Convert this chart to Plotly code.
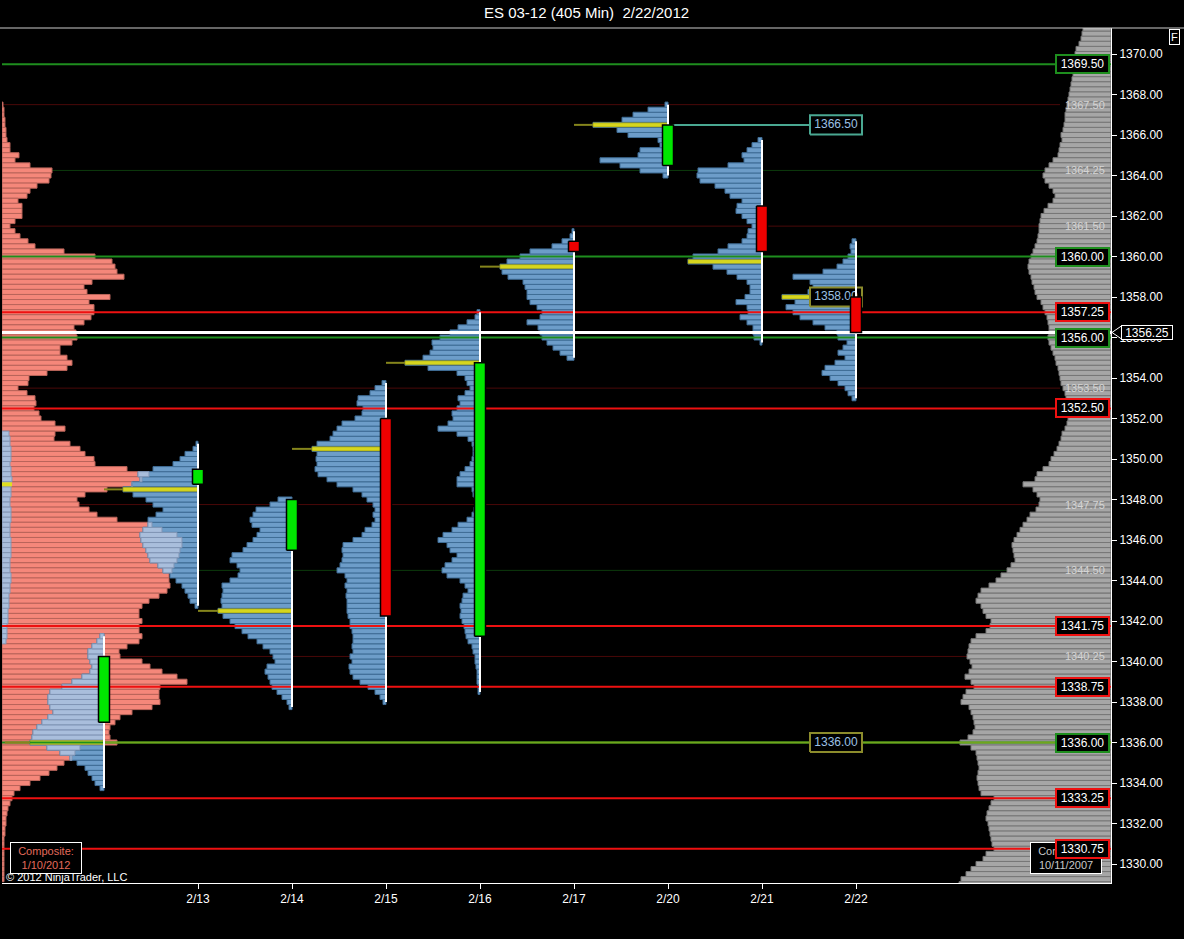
import plotly.graph_objects as go

# ---------------------------------------------------------------- data
DAYS = ["2/10", "2/13", "2/14", "2/15", "2/16", "2/17", "2/20", "2/21", "2/22"]
DAY_TICKS = ["2/13", "2/14", "2/15", "2/16", "2/17", "2/20", "2/21", "2/22"]
TICK = 0.25

OPEN = [1337.00, 1348.75, 1345.50, 1352.00, 1341.25, 1360.75, 1364.50, 1362.50, 1358.00]
CLOSE = [1340.25, 1349.50, 1348.00, 1342.25, 1354.75, 1360.25, 1366.50, 1360.25, 1356.25]
HIGH = [1341.25, 1350.75, 1348.00, 1353.75, 1357.25, 1361.25, 1367.50, 1365.75, 1360.75]
LOW = [1333.75, 1342.75, 1337.75, 1338.00, 1338.50, 1355.00, 1364.00, 1355.75, 1353.00]

# daily volume profiles: one value per 0.25 tick, from the day's low upward
PROF_0210 = [4, 9, 12, 16, 19, 27, 34, 44, 57, 74, 72, 71, 67, 62, 56, 51,
             54, 56, 56, 54, 42, 32, 22, 14, 12, 14, 16, 16, 12, 7, 4]
PROF_0213 = [3, 8, 10, 13, 16, 22, 28, 35, 40, 48, 50, 52, 55, 57, 58, 55,
             50, 50, 42, 35, 45, 52, 65, 75, 66, 58, 60, 45, 25, 18, 13, 5, 2]
PROF_0214 = [3, 5, 10, 15, 20, 22, 24, 27, 25, 17, 19, 22, 29, 35, 44, 50,
             57, 62, 69, 74, 70, 71, 70, 69, 70, 62, 54, 52, 55, 62, 60, 49,
             45, 39, 35, 32, 40, 42, 39, 36, 22, 14]
PROF_0215 = [3, 6, 11, 18, 26, 33, 36, 37, 34, 36, 33, 34, 33, 33, 34, 36,
             36, 38, 39, 39, 39, 40, 39, 41, 39, 41, 49, 46, 44, 43, 44, 43,
             33, 24, 21, 14, 11, 13, 11, 13, 19, 24, 33, 49, 59, 68, 71, 69,
             70, 69, 74, 69, 56, 53, 49, 44, 31, 24, 23, 29, 28, 16, 11, 4]
PROF_0216 = [2, 2, 3, 3, 3, 4, 5, 5, 7, 8, 12, 14, 15, 16, 18, 20,
             19, 20, 18, 17, 12, 15, 20, 33, 38, 35, 28, 23, 30, 33, 42, 37,
             28, 22, 13, 8, 6, 5, 5, 7, 8, 23, 23, 20, 15, 10, 8, 7,
             7, 8, 12, 23, 42, 32, 27, 28, 23, 20, 22, 15, 10, 13, 15, 23,
             52, 75, 57, 50, 47, 48, 40, 30, 22, 13, 5, 3]
PROF_0217 = [7, 14, 21, 27, 32, 34, 36, 47, 34, 32, 37, 44, 47, 47, 49, 51,
             66, 72, 74, 67, 54, 44, 22, 12, 4, 2]
PROF_0220 = [5, 28, 48, 68, 30, 28, 8, 10, 40, 51, 75, 46, 35, 20, 3]
PROF_0221 = [2, 8, 9, 9, 15, 22, 14, 15, 26, 17, 12, 12, 15, 25, 35, 49,
             74, 69, 44, 34, 20, 15, 14, 10, 15, 20, 26, 25, 20, 32, 37, 47,
             62, 65, 64, 34, 18, 20, 15, 10, 4]
PROF_0222 = [4, 8, 11, 18, 26, 34, 31, 21, 11, 18, 13, 9, 18, 19, 31, 43,
             56, 63, 70, 61, 74, 48, 43, 46, 63, 33, 19, 13, 8, 5, 6, 4]
DAILY_PROFILES = [PROF_0210, PROF_0213, PROF_0214, PROF_0215, PROF_0216,
                  PROF_0217, PROF_0220, PROF_0221, PROF_0222]

# composite "1/10/2012" (left edge), from the top price downward
COMP_LEFT_TOP = 1367.50
COMP_LEFT = [1, 2, 2, 3, 3, 4, 4, 5, 8, 8, 17, 13, 28, 50, 49, 47,
             35, 28, 25, 16, 20, 20, 20, 13, 8, 13, 18, 26, 33, 62, 93, 110,
             113, 115, 122, 90, 82, 85, 108, 87, 92, 92, 89, 82, 72, 74, 75, 70,
             58, 58, 65, 70, 65, 45, 27, 26, 16, 25, 33, 34, 32, 37, 39, 53,
             63, 53, 52, 68, 78, 83, 92, 93, 125, 147, 140, 130, 105, 83, 75, 77,
             87, 95, 115, 150, 160, 175, 180, 180, 178, 177, 175, 172, 170, 167, 167, 168,
             165, 157, 147, 140, 137, 137, 140, 137, 137, 140, 137, 125, 117, 118, 140, 148,
             160, 175, 185, 158, 157, 157, 158, 150, 130, 118, 113, 108, 107, 108, 115, 78,
             73, 70, 62, 55, 47, 38, 28, 18, 12, 10, 8, 6, 5, 4, 4, 3,
             3, 2, 2, 2, 2, 2, 2, 2, 2, 2]
COMP_LEFT_VA_TOP = 1351.25
COMP_LEFT_VA = [7, 8, 8, 9, 9, 9, 8, 9, 9, 10, 9, 9, 9, 8, 8, 9,
                9, 9, 8, 8, 8, 9, 9, 9, 9, 8, 8, 8, 9, 9, 8, 8,
                7, 7, 7, 6, 6, 6, 5, 5, 5, 4]
COMP_LEFT_VA_POC = 1348.75

# composite "10/11/2007" (right edge), from the top price downward
COMP_RIGHT_TOP = 1371.25
COMP_RIGHT = [28, 29, 30, 32, 35, 36, 36, 37, 37, 38, 39, 40, 41, 42, 43, 44,
              45, 46, 46, 47, 48, 50, 49, 51, 52, 53, 58, 62, 66, 68, 66, 62,
              58, 56, 58, 63, 67, 70, 71, 72, 72, 73, 74, 76, 78, 80, 82, 83,
              82, 80, 79, 77, 76, 74, 70, 68, 66, 64, 63, 62, 62, 63, 62, 60,
              58, 56, 55, 53, 52, 51, 50, 48, 46, 45, 44, 43, 43, 43, 44, 46,
              49, 50, 52, 54, 57, 60, 62, 68, 74, 76, 88, 78, 74, 71, 72, 75,
              81, 84, 88, 91, 94, 97, 99, 98, 97, 96, 100, 104, 110, 115, 122, 130,
              133, 135, 130, 128, 125, 120, 121, 125, 135, 140, 142, 143, 144, 141, 139, 142,
              146, 140, 137, 145, 148, 150, 142, 140, 138, 137, 136, 138, 143, 151, 140, 135,
              134, 133, 132, 133, 134, 133, 132, 130, 117, 120, 122, 124, 125, 123, 122, 121,
              120, 119, 117, 125, 128, 135, 140, 145, 150, 152]

RED_LEVELS = [1357.25, 1352.50, 1341.75, 1338.75, 1333.25, 1330.75]
GREEN_LEVELS = [1369.50, 1360.00, 1356.00, 1336.00]
FAINT_RED_LEVELS = [1367.50, 1361.50, 1353.50, 1347.75, 1340.25]
FAINT_GREEN_LEVELS = [1364.25, 1344.50]
LAST_PRICE = 1356.25
NAKED_POC_DAYS = [6, 8, 0]          # days whose POC carries a price tag
NAKED_POC_PRICES = [1366.50, 1358.00, 1336.00]

# ---------------------------------------------------------------- geometry
VOL_PER_DAY = 94.0                  # profile units that span one day column
X_LEFT, X_RIGHT = -102 / 94.0, 1007 / 94.0
Y_RANGE = [1329.062, 1371.284]
FONT = "Liberation Sans, Arial, sans-serif"


def px_x(px):
    return (px - 104) / 94.0


def paper_x(px):
    return (px - 2) / 1109.0


def paper_y(py):
    return (883 - py) / 855.0


def up(low, n):
    return [low + k * TICK for k in range(n)]


def down(top, n):
    return [top - k * TICK for k in range(n)]


fig = go.Figure()
shapes = []
annotations = []

# faint reference levels, behind the profiles
for lv in FAINT_RED_LEVELS + FAINT_GREEN_LEVELS:
    col = "#4a0808" if lv in FAINT_RED_LEVELS else "#0c3a0c"
    shapes.append(dict(type="line", xref="x", yref="y", x0=X_LEFT, x1=px_x(1060),
                       y0=lv, y1=lv, line=dict(color=col, width=1), layer="below"))

# left composite
cl_p = down(COMP_LEFT_TOP, len(COMP_LEFT))
fig.add_trace(go.Bar(orientation="h", y=cl_p, x=[v / VOL_PER_DAY for v in COMP_LEFT],
                     base=X_LEFT, width=TICK, hoverinfo="skip",
                     marker=dict(color="#F5877A", line=dict(color="#B9645A", width=1))))
va_p = down(COMP_LEFT_VA_TOP, len(COMP_LEFT_VA))
fig.add_trace(go.Bar(orientation="h", y=va_p, x=[v / VOL_PER_DAY for v in COMP_LEFT_VA],
                     base=X_LEFT, width=TICK, hoverinfo="skip",
                     marker=dict(color="#A9BEDC", line=dict(color="#8397b5", width=1))))
fig.add_trace(go.Bar(orientation="h", y=[COMP_LEFT_VA_POC], x=[max(COMP_LEFT_VA) / VOL_PER_DAY],
                     base=X_LEFT, width=0.2, hoverinfo="skip",
                     marker=dict(color="#E0E020", line=dict(width=0))))

# right composite
cr_p = down(COMP_RIGHT_TOP, len(COMP_RIGHT))
fig.add_trace(go.Bar(orientation="h", y=cr_p, x=[-v / VOL_PER_DAY for v in COMP_RIGHT],
                     base=X_RIGHT, width=TICK, hoverinfo="skip",
                     marker=dict(color="#A6A6A6", line=dict(color="#777777", width=1))))

# daily profiles
left_lookup = {round(p * 4): v for p, v in zip(cl_p, COMP_LEFT)}
dy, dx, db = [], [], []
oy, ox, ob = [], [], []
py_, px_, pb = [], [], []
ext_x, ext_y = [], []
for i, prof in enumerate(DAILY_PROFILES):
    prices = up(LOW[i], len(prof))
    for p, v in zip(prices, prof):
        dy.append(p); dx.append(-v / VOL_PER_DAY); db.append(i)
        sv = left_lookup.get(round(p * 4), 0)
        s_right = X_LEFT + sv / VOL_PER_DAY
        d_left = i - v / VOL_PER_DAY
        if s_right > d_left:
            end = min(s_right, i)
            oy.append(p); ox.append(end - d_left); ob.append(d_left)
    k = prof.index(max(prof))
    poc = prices[k]
    py_.append(poc); px_.append(-max(prof) / VOL_PER_DAY); pb.append(i)
    if i <= 6:
        start = i - 1 if i > 0 else X_LEFT + 0.03
        ext_x += [start, i - max(prof) / VOL_PER_DAY, None]
        ext_y += [poc, poc, None]

fig.add_trace(go.Bar(orientation="h", y=dy, x=dx, base=db, width=TICK, hoverinfo="skip",
                     marker=dict(color="#6D9DC9", line=dict(color="#3F6D96", width=1))))
fig.add_trace(go.Bar(orientation="h", y=oy, x=ox, base=ob, width=TICK, hoverinfo="skip",
                     marker=dict(color="#A9BEDC", line=dict(color="#8095B5", width=1))))
fig.add_trace(go.Bar(orientation="h", y=py_, x=px_, base=pb, width=0.2, hoverinfo="skip",
                     marker=dict(color="#D6D61E", line=dict(color="#8a8a10", width=0.5))))


def hlines(levels, x0, x1):
    xs, ys = [], []
    for lv in levels:
        xs += [x0, x1, None]
        ys += [lv, lv, None]
    return xs, ys


# key levels
xs, ys = hlines(GREEN_LEVELS, X_LEFT, X_RIGHT)
fig.add_trace(go.Scatter(x=xs, y=ys, mode="lines", line=dict(color="#1E8E1E", width=2),
                         hoverinfo="skip"))
xs, ys = hlines(RED_LEVELS, X_LEFT, X_RIGHT)
fig.add_trace(go.Scatter(x=xs, y=ys, mode="lines", line=dict(color="#EE1111", width=2),
                         hoverinfo="skip"))
# naked POC lines
fig.add_trace(go.Scatter(x=[NAKED_POC_DAYS[2], X_RIGHT], y=[NAKED_POC_PRICES[2]] * 2,
                         mode="lines", line=dict(color="#72A41C", width=2), hoverinfo="skip"))
fig.add_trace(go.Scatter(x=[NAKED_POC_DAYS[0] + 0.05, px_x(810)], y=[NAKED_POC_PRICES[0]] * 2,
                         mode="lines", line=dict(color="#4AA892", width=2), hoverinfo="skip"))
# POC extension lines
fig.add_trace(go.Scatter(x=ext_x, y=ext_y, mode="lines", line=dict(color="#85851C", width=2),
                         hoverinfo="skip"))
# last price
fig.add_trace(go.Scatter(x=[X_LEFT, X_RIGHT], y=[LAST_PRICE] * 2, mode="lines",
                         line=dict(color="#FFFFFF", width=3), hoverinfo="skip"))

# in-plot POC price tags
tag_cx, tag_hw, tag_hh = px_x(836), 26 / 94.0, 0.47
tag_border = ["#4AA892", "#8C8C2C", "#8C8C2C"]
for price, bc in zip(NAKED_POC_PRICES, tag_border):
    fig.add_trace(go.Scatter(
        x=[tag_cx - tag_hw, tag_cx + tag_hw, tag_cx + tag_hw, tag_cx - tag_hw, tag_cx - tag_hw],
        y=[price - tag_hh, price - tag_hh, price + tag_hh, price + tag_hh, price - tag_hh],
        mode="lines", fill="toself", fillcolor="#000000", line=dict(color=bc, width=2),
        hoverinfo="skip"))
    fig.add_trace(go.Scatter(x=[tag_cx], y=[price], mode="text", text=[f"{price:.2f}"],
                             textfont=dict(color="#9CC0E4", size=12, family=FONT),
                             hoverinfo="skip"))

# wicks
wx, wy = [], []
for i in range(len(DAYS)):
    wx += [i, i, None]
    wy += [LOW[i], HIGH[i], None]
fig.add_trace(go.Scatter(x=wx, y=wy, mode="lines", line=dict(color="#FFFFFF", width=2),
                         hoverinfo="skip"))

# candle bodies
hw = 5.5 / 94.0
for i in range(len(DAYS)):
    o, c = OPEN[i], CLOSE[i]
    colr = "#00E600" if c > o else "#EE0000"
    fig.add_trace(go.Scatter(x=[i - hw, i + hw, i + hw, i - hw, i - hw],
                             y=[o, o, c, c, o], mode="lines", fill="toself",
                             fillcolor=colr, line=dict(color="#000000", width=1.5),
                             hoverinfo="skip"))

# ---------------------------------------------------------------- annotations
annotations.append(dict(xref="paper", yref="paper", x=paper_x(586), y=paper_y(13),
                        text="ES 03-12 (405 Min)\u00a0\u00a02/22/2012", showarrow=False,
                        font=dict(color="#FFFFFF", size=15, family=FONT),
                        xanchor="center", yanchor="middle"))
annotations.append(dict(xref="paper", yref="paper", x=paper_x(1174), y=paper_y(37),
                        text="F", showarrow=False, bgcolor="#000000", bordercolor="#FFFFFF",
                        borderwidth=1, borderpad=1, xanchor="center", yanchor="middle",
                        font=dict(color="#FFFFFF", size=11, family=FONT)))
annotations.append(dict(xref="paper", yref="paper", x=paper_x(4), y=paper_y(877),
                        text="\u00a9 2012 NinjaTrader, LLC", showarrow=False, xanchor="left",
                        yanchor="middle", font=dict(color="#FFFFFF", size=11, family=FONT)))
annotations.append(dict(xref="paper", yref="paper", x=paper_x(46), y=paper_y(858),
                        text="Composite:<br>1/10/2012", showarrow=False, bgcolor="#000000",
                        bordercolor="#FFFFFF", borderwidth=1, width=68, height=28,
                        xanchor="center", yanchor="middle",
                        font=dict(color="#E36B5B", size=11, family=FONT)))
annotations.append(dict(xref="paper", yref="paper", x=paper_x(1066), y=paper_y(858),
                        text="Composite:<br>10/11/2007", showarrow=False, bgcolor="#000000",
                        bordercolor="#FFFFFF", borderwidth=1, width=68, height=28,
                        xanchor="center", yanchor="middle",
                        font=dict(color="#C8C8C8", size=11, family=FONT)))

for lv in FAINT_RED_LEVELS + FAINT_GREEN_LEVELS:
    annotations.append(dict(xref="x", yref="y", x=px_x(1085), y=lv, text=f"{lv:.2f}",
                            showarrow=False, font=dict(color="#D4D4D4", size=11, family=FONT)))

for lv in GREEN_LEVELS + RED_LEVELS:
    bc = "#1E8E1E" if lv in GREEN_LEVELS else "#EE1111"
    annotations.append(dict(xref="x", yref="y", x=px_x(1082.5), y=lv, text=f"{lv:.2f}",
                            showarrow=False, bgcolor="#000000", bordercolor=bc, borderwidth=2,
                            borderpad=1, width=49, height=14,
                            xanchor="center", yanchor="middle",
                            font=dict(color="#FFFFFF", size=12, family=FONT)))

annotations.append(dict(xref="paper", yref="y", x=paper_x(1121), y=LAST_PRICE,
                        text=f"{LAST_PRICE:.2f}", showarrow=False, xanchor="left",
                        bgcolor="#000000", bordercolor="#FFFFFF", borderwidth=1,
                        borderpad=0, width=50, height=13,
                        font=dict(color="#FFFFFF", size=12, family=FONT)))
shapes.append(dict(type="path", xref="paper", yref="y",
                   path=f"M {paper_x(1112)},{LAST_PRICE} L {paper_x(1122)},{LAST_PRICE + 0.34} "
                        f"L {paper_x(1122)},{LAST_PRICE - 0.34} Z",
                   fillcolor="#000000", line=dict(color="#FFFFFF", width=1), layer="above"))
# top border of the chart panel
shapes.append(dict(type="line", xref="paper", yref="paper", x0=paper_x(0), x1=paper_x(1184),
                   y0=1.0, y1=1.0, line=dict(color="#CCCCCC", width=1), layer="above"))

fig.update_layout(
    width=1184, height=939, autosize=False,
    margin=dict(l=2, r=73, t=28, b=56, pad=0),
    paper_bgcolor="#000000", plot_bgcolor="#000000",
    showlegend=False, barmode="overlay",
    font=dict(family=FONT, color="#FFFFFF", size=12),
    shapes=shapes, annotations=annotations,
    xaxis=dict(range=[X_LEFT, X_RIGHT], tickmode="array",
               tickvals=list(range(1, len(DAYS))), ticktext=DAY_TICKS,
               showgrid=False, zeroline=False, showline=True, linecolor="#FFFFFF",
               linewidth=1, ticks="outside", ticklen=5, tickcolor="#FFFFFF",
               tickfont=dict(color="#FFFFFF", size=12, family=FONT)),
    yaxis=dict(range=Y_RANGE, side="right", tickmode="array",
               tickvals=[1330 + 2 * k for k in range(21)], tickformat=".2f",
               showgrid=False, zeroline=False, showline=True, linecolor="#FFFFFF",
               linewidth=1, ticks="outside", ticklen=5, tickcolor="#FFFFFF",
               tickfont=dict(color="#FFFFFF", size=12, family=FONT)),
)

fig.write_html("out.html", config={"displayModeBar": False},
               post_script="document.body.style.margin='0px';")
